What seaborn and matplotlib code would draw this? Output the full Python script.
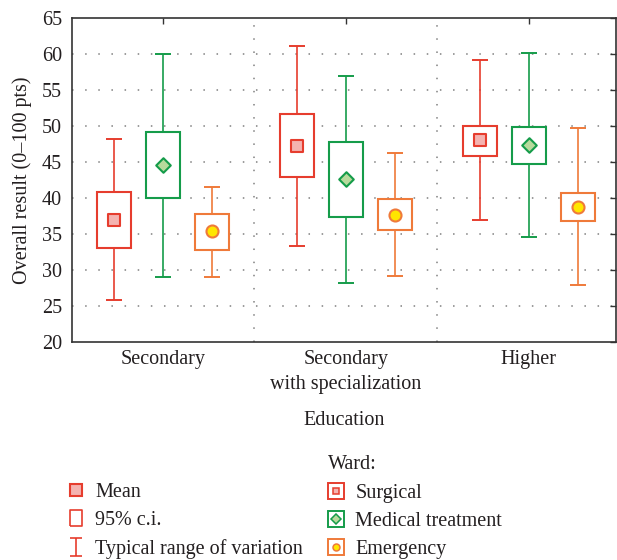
import matplotlib
matplotlib.use("Agg")
import matplotlib.pyplot as plt
from matplotlib.lines import Line2D
from matplotlib.path import Path
import seaborn as sns
import pandas as pd
import numpy as np

# summary statistics
education = ["Secondary", "Secondary\nwith specialization", "Higher"]
wards = ["Surgical", "Medical treatment", "Emergency"]

surgical_mean = [37.0, 47.2, 48.1]
surgical_ci_low = [33.0, 42.9, 45.9]
surgical_ci_high = [40.9, 51.6, 50.0]
surgical_rng_low = [25.8, 33.3, 36.9]
surgical_rng_high = [48.2, 61.1, 59.2]

medical_mean = [44.6, 42.6, 47.4]
medical_ci_low = [40.0, 37.4, 44.7]
medical_ci_high = [49.1, 47.8, 49.9]
medical_rng_low = [29.1, 28.2, 34.6]
medical_rng_high = [60.0, 57.0, 60.1]

emergency_mean = [35.4, 37.7, 38.8]
emergency_ci_low = [32.8, 35.5, 36.8]
emergency_ci_high = [37.8, 39.8, 40.7]
emergency_rng_low = [29.1, 29.2, 27.9]
emergency_rng_high = [41.6, 46.2, 49.7]

# styling per ward
edge_colors = {"Surgical": "#e63d2e", "Medical treatment": "#159c4a", "Emergency": "#ef7a3a"}
fill_colors = {"Surgical": "#f4b3b0", "Medical treatment": "#b7da9c", "Emergency": "#ffe600"}
markers = {"Surgical": "s", "Medical treatment": "D", "Emergency": "o"}
marker_sizes = {"Surgical": 65, "Medical treatment": 55, "Emergency": 75}
offsets = {"Surgical": -0.268, "Medical treatment": 0.0, "Emergency": 0.268}

rows = []
for ward, m, cl, ch, rl, rh in [
    ("Surgical", surgical_mean, surgical_ci_low, surgical_ci_high, surgical_rng_low, surgical_rng_high),
    ("Medical treatment", medical_mean, medical_ci_low, medical_ci_high, medical_rng_low, medical_rng_high),
    ("Emergency", emergency_mean, emergency_ci_low, emergency_ci_high, emergency_rng_low, emergency_rng_high),
]:
    for i, edu in enumerate(education):
        rows.append(dict(education=edu, ward=ward, mean=m[i], ci_low=cl[i], ci_high=ch[i],
                         rng_low=rl[i], rng_high=rh[i], x=i + offsets[ward]))
df = pd.DataFrame(rows)

sns.set_theme(style="white")
text_color = "#231f20"
plt.rcParams["font.family"] = ["Liberation Serif", "DejaVu Serif"]
plt.rcParams["text.color"] = text_color
plt.rcParams["axes.labelcolor"] = text_color

fig = plt.figure(figsize=(6.17, 5.6), dpi=100)
ax = fig.add_axes([0.116, 0.389, 0.883, 0.579])

box_w = 0.186
cap = 0.044
for ward in wards:
    sub = df[df["ward"] == ward]
    col = edge_colors[ward]
    # typical range of variation (whiskers with caps)
    ax.vlines(sub["x"], sub["rng_low"], sub["rng_high"], color=col, lw=1.2, zorder=2)
    ax.hlines(sub["rng_low"], sub["x"] - cap, sub["x"] + cap, color=col, lw=1.4, zorder=2)
    ax.hlines(sub["rng_high"], sub["x"] - cap, sub["x"] + cap, color=col, lw=1.4, zorder=2)
    # 95% c.i. box
    ax.bar(sub["x"], sub["ci_high"] - sub["ci_low"], bottom=sub["ci_low"], width=box_w,
           facecolor="white", edgecolor=col, linewidth=1.5, zorder=3)
    # mean marker
    sns.scatterplot(data=sub, x="x", y="mean", marker=markers[ward], s=marker_sizes[ward],
                    color=fill_colors[ward], edgecolor=col, linewidth=1.5, zorder=4, ax=ax,
                    legend=False)

ax.set_xlim(-0.5, 2.48)
ax.set_ylim(20, 65)
ax.set_yticks(np.arange(20, 66, 5))
ax.set_xticks(range(len(education)))
ax.set_xticklabels(education, fontsize=14.5, linespacing=1.4)
ax.tick_params(axis="y", labelsize=14.5, pad=7)
ax.tick_params(axis="x", pad=6)
ax.tick_params(direction="in", length=4, width=1, top=True, right=True, colors="#333333",
               labelcolor=text_color)
for sp in ax.spines.values():
    sp.set_color("#333333")
    sp.set_linewidth(1.2)

# dotted grid
for yv in np.arange(25, 65, 5):
    ax.axhline(yv, color="#808080", lw=1.1, ls=(0, (1, 7.6)), zorder=0)
for xv in [0.5, 1.5]:
    ax.axvline(xv, color="#808080", lw=1.1, ls=(0, (1, 7.6)), zorder=0)

ax.set_xlabel("Education", fontsize=14.5, labelpad=12)
ax.set_ylabel("Overall result (0\u2013100 pts)", fontsize=14.5, labelpad=7)

# legends
red = edge_colors["Surgical"]
rect_path = Path([(-0.38, -0.5), (0.38, -0.5), (0.38, 0.5), (-0.38, 0.5), (-0.38, -0.5)])
range_path = Path([(-0.33, 0.5), (0.33, 0.5), (0, 0.5), (0, -0.5), (-0.33, -0.5), (0.33, -0.5)],
                  [Path.MOVETO, Path.LINETO, Path.MOVETO, Path.LINETO, Path.MOVETO, Path.LINETO])
h_mean = Line2D([], [], ls="none", marker="s", ms=9, mfc=fill_colors["Surgical"], mec=red, mew=1.5)
h_ci = Line2D([], [], ls="none", marker=rect_path, ms=12, mfc="white", mec=red, mew=1.2)
h_rng = Line2D([], [], ls="none", marker=range_path, ms=13.5, color=red, mew=1.2)
fig.legend([h_mean, h_ci, h_rng], ["Mean", "95% c.i.", "Typical range of variation"],
           loc="upper left", bbox_to_anchor=(0.11, 0.138), frameon=False,
           fontsize=14.5, handlelength=0.8, handletextpad=0.55, labelspacing=0.45,
           borderaxespad=0, borderpad=0)

ward_handles = []
for ward in wards:
    outer = Line2D([], [], ls="none", marker="s", ms=12, mfc="white", mec=edge_colors[ward], mew=1.4)
    inner = Line2D([], [], ls="none", marker=markers[ward], ms=5, mfc=fill_colors[ward],
                   mec=edge_colors[ward], mew=1.1)
    ward_handles.append((outer, inner))
fig.legend(ward_handles, wards, title="Ward:", loc="upper left",
           bbox_to_anchor=(0.532, 0.187), frameon=False, fontsize=14.5,
           title_fontsize=14.5, alignment="left", handlelength=0.8, handletextpad=0.55,
           labelspacing=0.46, borderaxespad=0, borderpad=0)

fig.savefig("out.png", dpi=100)
